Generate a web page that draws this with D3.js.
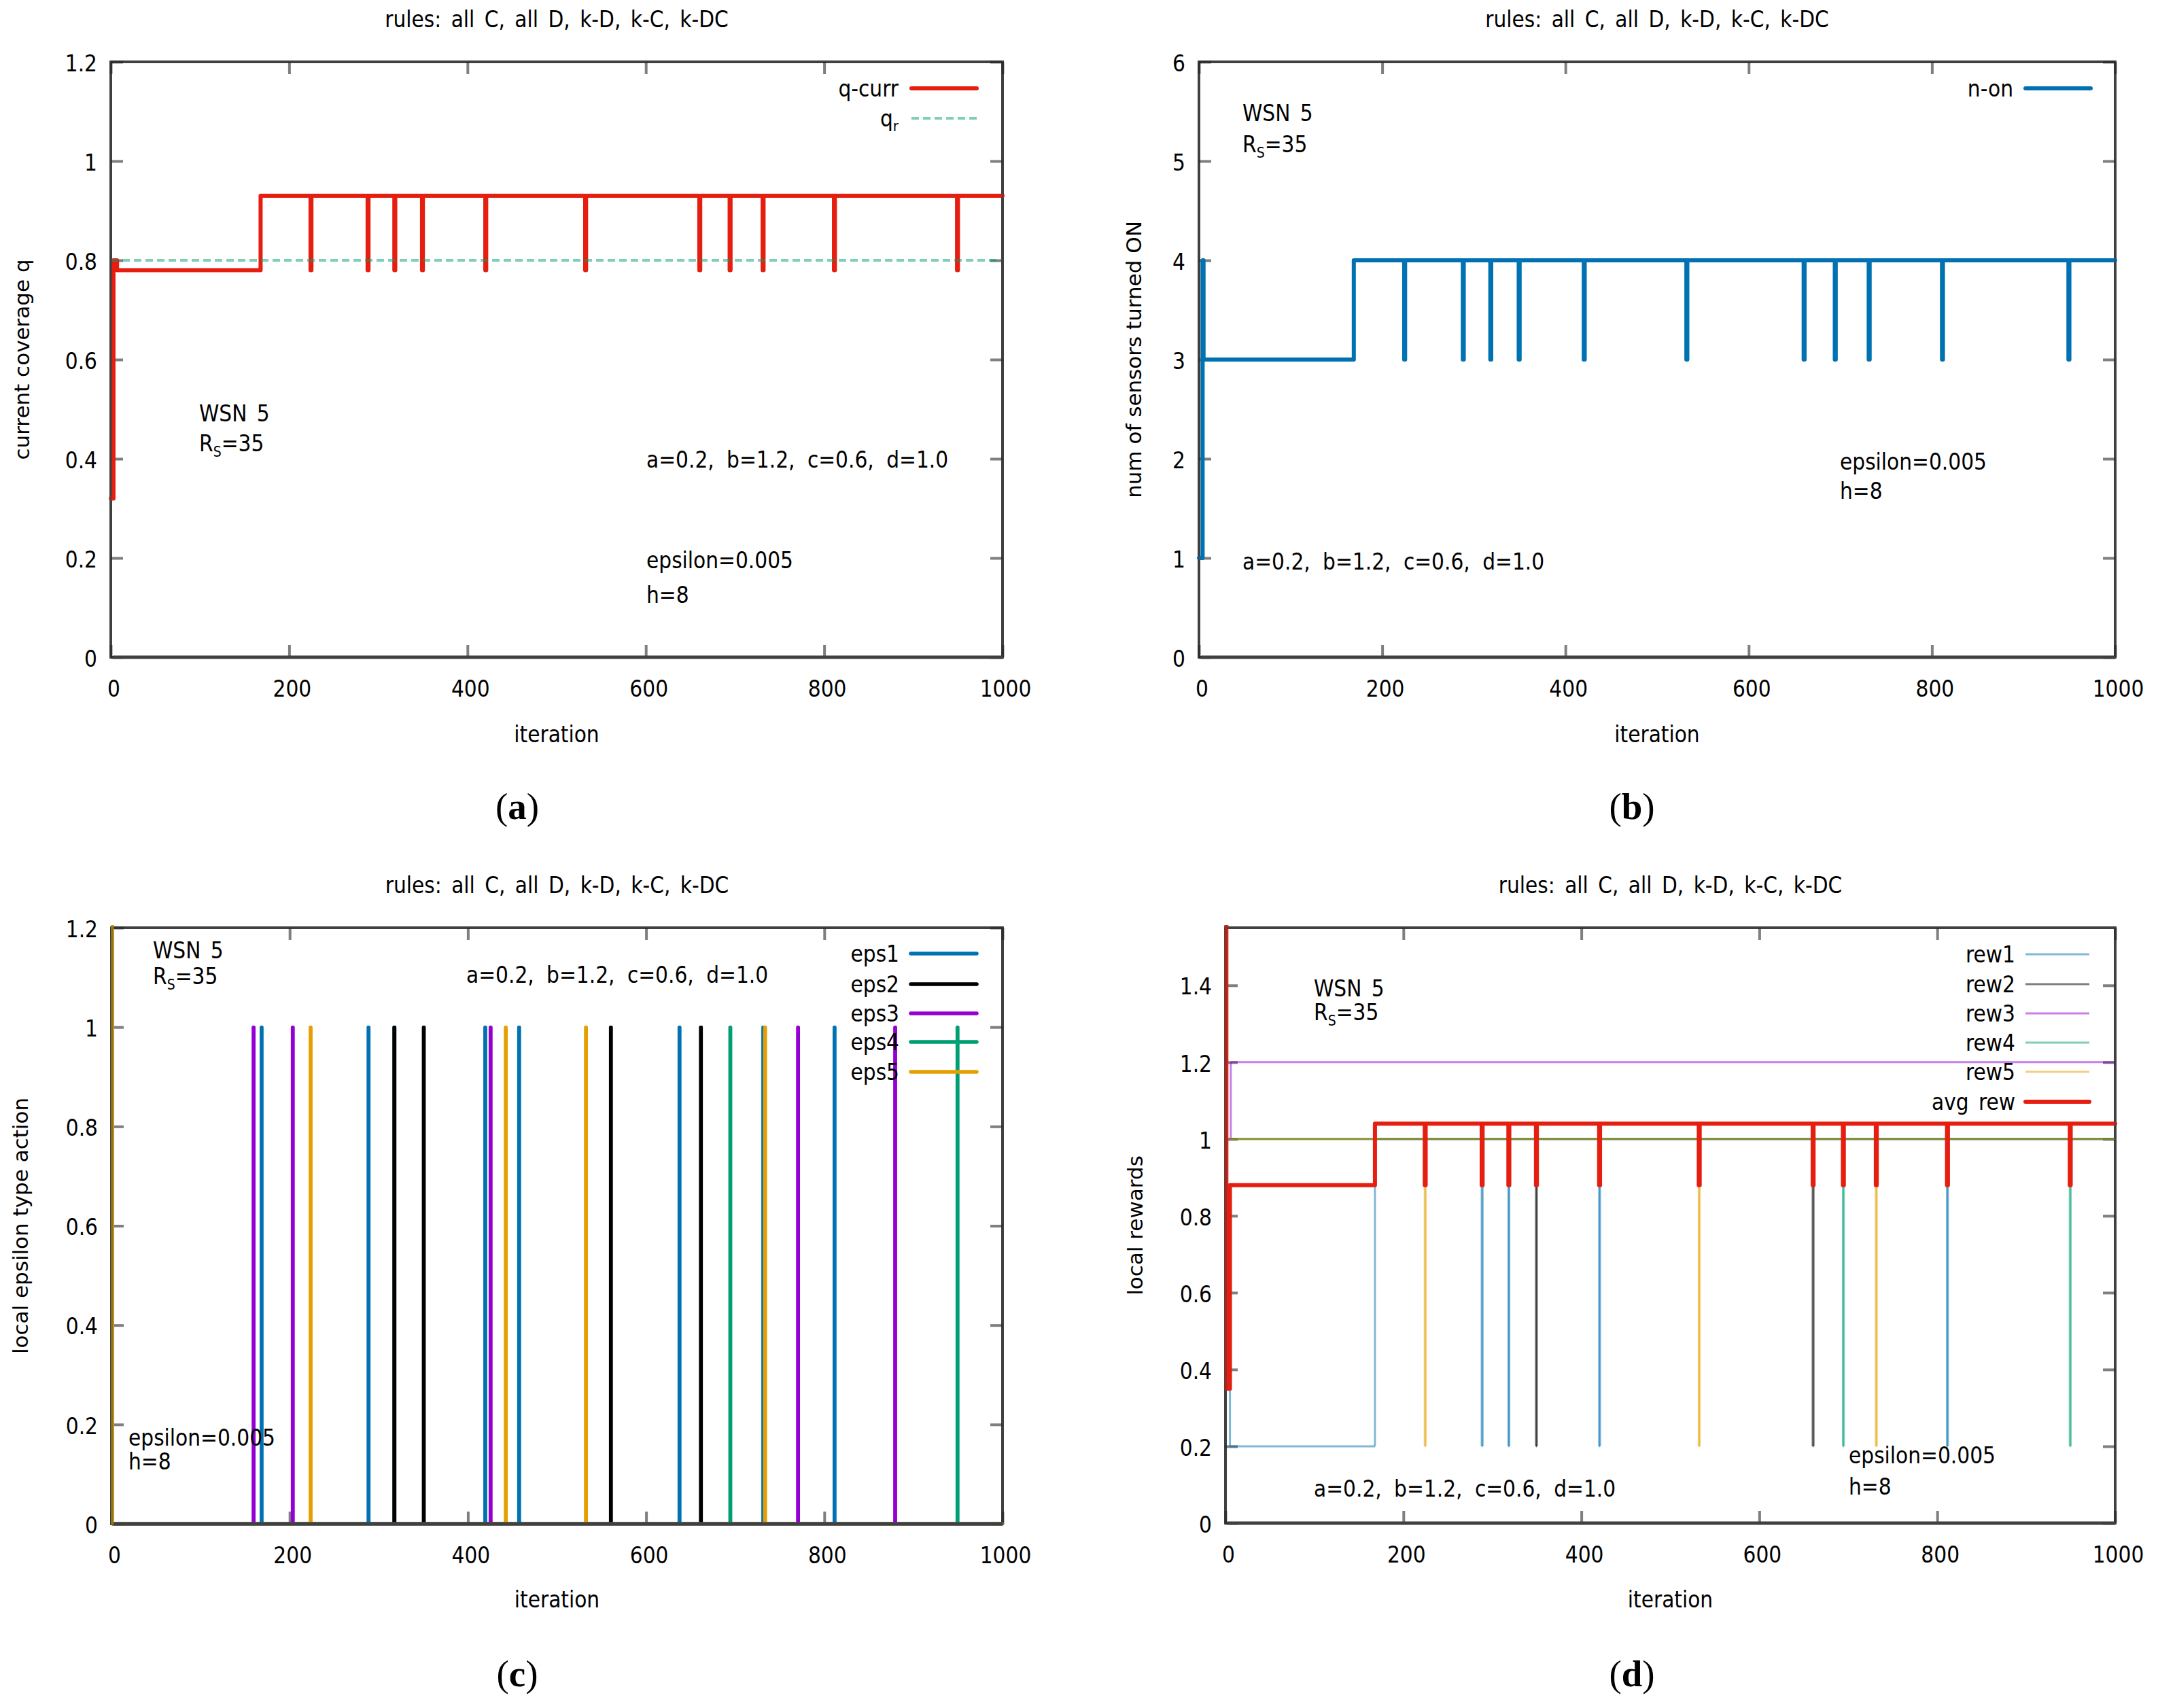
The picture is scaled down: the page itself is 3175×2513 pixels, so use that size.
<!DOCTYPE html>
<html>
<head>
<meta charset="utf-8">
<script src="https://cdn.jsdelivr.net/npm/d3@7"></script>
<style>
  body { margin: 0; background: #fff; }
  text { font-family: "DejaVu Sans Condensed", "DejaVu Sans", sans-serif; font-size: 33px; fill: #000; word-spacing: 5px; }
  text.ylab { font-family: "DejaVu Sans", sans-serif; font-size: 31px; word-spacing: 0; }
  text.cap { font-family: "Liberation Serif", "DejaVu Serif", serif; font-size: 55px; word-spacing: 0; }
  text.params { word-spacing: 9px; }
</style>
</head>
<body>
<svg id="fig" width="3175" height="2513"></svg>
<script>
// ---- data ----
const iterTicks = [0, 200, 400, 600, 800, 1000];
const titleText = 'rules: all C, all D, k-D, k-C, k-DC';
const paramText = 'a=0.2, b=1.2, c=0.6, d=1.0';

// iterations where coverage / sensors / avg reward dip for one step
const dropIters = [224, 288, 318, 349, 420, 532, 660, 694, 731, 811, 949];

// (a) current coverage
const qTicks = [0, 0.2, 0.4, 0.6, 0.8, 1, 1.2];
const qCurrStart = [[0, 0.32], [3, 0.8], [7, 0.78], [168, 0.93]];
const qCurrHigh = 0.93, qCurrLow = 0.78;
const qRequired = 0.8;

// (b) sensors turned on
const nTicks = [0, 1, 2, 3, 4, 5, 6];
const nOnStart = [[0, 1], [4, 4], [5, 3], [169, 4]];
const nOnHigh = 4, nOnLow = 3;

// (c) epsilon-type actions (value 1 at these iterations, 0 otherwise)
const epsTicks = [0, 0.2, 0.4, 0.6, 0.8, 1, 1.2];
const epsStart = [[0, 1.3], [1, 0]];
const eps1Iters = [168, 288, 317, 419, 457, 637, 731, 811];
const eps2Iters = [317, 350, 560, 661];
const eps3Iters = [159, 203, 425, 770, 879];
const eps4Iters = [694, 949];
const eps5Iters = [223, 442, 532, 733];

// (d) local rewards
const rewTicks = [0, 0.2, 0.4, 0.6, 0.8, 1, 1.2, 1.4];
const rew1Start = [[0, 0.35], [5, 0.2], [168, 1]];
const rew1Dips = [288, 318, 420, 811];
const rew2Dips = [349, 660];
const rew3Start = [[0, 1], [6, 1.2]];
const rew4Dips = [694, 949];
const rew5Dips = [224, 532, 731];
const rewHigh = 1, rewLow = 0.2, rew3Level = 1.2;
const avgStart = [[0, 1.6], [1, 0.35], [5, 0.88], [168, 1.04]];
const avgHigh = 1.04, avgLow = 0.88;

const colors = { red: '#e51e10', blue: '#0072b2', black: '#000000', purple: '#9400d3', green: '#009e73', orange: '#e69f00' };

// change points -> list, one-step excursions to "peak" at each iteration
function spikeSeries(start, base, peak, iters, end) {
  const pts = start.map(p => p.slice());
  iters.forEach(s => { pts.push([s, peak]); pts.push([s + 1, base]); });
  pts.push([end, base]);
  return pts;
}

const svg = d3.select('#fig');
svg.append('rect').attr('width', 3175).attr('height', 2513).attr('fill', '#fff');

function makePanel(c) {
  const x = d3.scaleLinear().domain([0, 1000]).range([c.L, c.R]);
  const y = d3.scaleLinear().domain(c.yDomain).range([c.B, c.T]);
  const g = svg.append('g');
  const clipId = 'clip-' + c.id;
  svg.append('clipPath').attr('id', clipId).append('rect')
    .attr('x', c.L - 4).attr('y', c.T - 4)
    .attr('width', c.R - c.L + 8).attr('height', c.B - c.T + 8);

  g.append('rect')
    .attr('x', c.L).attr('y', c.T).attr('width', c.R - c.L).attr('height', c.B - c.T)
    .attr('fill', 'none').attr('stroke', '#404040').attr('stroke-width', 4);

  const tk = 18;
  const axes = [
    g.append('g').attr('transform', `translate(0,${c.B})`)
      .call(d3.axisBottom(x).tickValues(iterTicks).tickSize(-tk).tickPadding(35).tickFormat(d => String(d))),
    g.append('g').attr('transform', `translate(0,${c.T})`)
      .call(d3.axisTop(x).tickValues(iterTicks).tickSize(-tk).tickFormat('')),
    g.append('g').attr('transform', `translate(${c.L},0)`)
      .call(d3.axisLeft(y).tickValues(c.yTicks).tickSize(-tk).tickPadding(20).tickFormat(d => String(d))),
    g.append('g').attr('transform', `translate(${c.R},0)`)
      .call(d3.axisRight(y).tickValues(c.yTicks).tickSize(-tk).tickFormat(''))
  ];
  axes.forEach(a => {
    a.select('.domain').remove();
    a.selectAll('.tick line').attr('stroke', '#000').attr('stroke-opacity', 0.5).attr('stroke-width', 4);
  });
  axes[0].selectAll('.tick text').attr('dx', 4);
  axes[2].selectAll('.tick text').attr('dy', '0.4em');

  // title, axis labels, caption
  g.append('text').attr('x', (c.L + c.R) / 2).attr('y', c.titleY).attr('text-anchor', 'middle').text(titleText);
  g.append('text').attr('x', (c.L + c.R) / 2).attr('y', c.xlabY).attr('text-anchor', 'middle').text('iteration');
  g.append('text').attr('class', 'ylab')
    .attr('transform', `translate(${c.ylabX},${(c.T + c.B) / 2}) rotate(-90)`)
    .attr('text-anchor', 'middle').attr('dy', '0.35em').text(c.ylabel);
  const cap = g.append('text').attr('class', 'cap').attr('x', c.capX).attr('y', c.capY).attr('text-anchor', 'middle');
  cap.append('tspan').text('(');
  cap.append('tspan').attr('font-weight', 'bold').text(c.id);
  cap.append('tspan').text(')');

  const plot = g.append('g').attr('clip-path', `url(#${clipId})`);
  return { c, g, x, y, plot };
}

function drawSeries(p, pts, color, width, opacity) {
  if (opacity >= 1) {
    const line = d3.line().x(d => p.x(d[0])).y(d => p.y(d[1])).curve(d3.curveStepAfter);
    p.plot.append('path').attr('d', line(pts))
      .attr('fill', 'none').attr('stroke', color).attr('stroke-width', width)
      .attr('stroke-linejoin', 'round').attr('stroke-linecap', 'round');
  } else {
    // separate segments so overlapping transparent strokes build up like the original
    const exp = [];
    pts.forEach((d, i) => { exp.push(d); if (i < pts.length - 1) exp.push([pts[i + 1][0], d[1]]); });
    const segs = d3.pairs(exp).filter(([a, b]) => a[0] !== b[0] || a[1] !== b[1]);
    p.plot.append('g').selectAll('line').data(segs).join('line')
      .attr('x1', d => p.x(d[0][0])).attr('y1', d => p.y(d[0][1]))
      .attr('x2', d => p.x(d[1][0])).attr('y2', d => p.y(d[1][1]))
      .attr('stroke', color).attr('stroke-width', width).attr('stroke-opacity', opacity);
  }
}

function finish(p, notes, legend) {
  const c = p.c, g = p.g;
  // border again, half transparent, over the data; bottom edge stays solid
  g.append('rect')
    .attr('x', c.L).attr('y', c.T).attr('width', c.R - c.L).attr('height', c.B - c.T)
    .attr('fill', 'none').attr('stroke', '#404040').attr('stroke-width', 4).attr('stroke-opacity', 0.5);
  g.append('line')
    .attr('x1', c.L + 3).attr('x2', c.R).attr('y1', c.B).attr('y2', c.B)
    .attr('stroke', '#404040').attr('stroke-width', 5);

  notes.forEach(n => {
    const t = g.append('text').attr('x', n.x).attr('y', n.y);
    if (n.rs) {
      t.append('tspan').text('R');
      t.append('tspan').attr('font-size', '21px').attr('dy', 8).text('S');
      t.append('tspan').attr('dy', -8).text('=35');
    } else {
      t.text(n.text);
      if (n.text === paramText) t.attr('class', 'params');
    }
  });

  legend.items.forEach((it, i) => {
    const ly = legend.ys[i];
    const t = g.append('text').attr('x', legend.textX).attr('y', ly + 12).attr('text-anchor', 'end');
    if (it.sub) {
      t.append('tspan').text(it.label);
      t.append('tspan').attr('font-size', '22px').attr('dy', 7).text(it.sub);
    } else {
      t.text(it.label);
    }
    const l = g.append('line').attr('x1', legend.x1).attr('x2', legend.x2).attr('y1', ly).attr('y2', ly)
      .attr('stroke', it.color).attr('stroke-width', it.width)
      .attr('stroke-opacity', it.opacity).attr('stroke-linecap', it.opacity >= 1 ? 'round' : 'butt');
    if (it.dash) l.attr('stroke-dasharray', it.dash);
  });
}

// ---- (a) ----
const pa = makePanel({ id: 'a', L: 163, T: 91, R: 1475, B: 967, yDomain: [0, 1.2], yTicks: qTicks,
  ylabel: 'current coverage q', ylabX: 32, titleY: 40, xlabY: 1092, capX: 761, capY: 1205 });
drawSeries(pa, spikeSeries(qCurrStart, qCurrHigh, qCurrLow, dropIters, 1000), colors.red, 6, 1);
pa.plot.append('line')
  .attr('x1', pa.x(0)).attr('x2', pa.x(1000)).attr('y1', pa.y(qRequired)).attr('y2', pa.y(qRequired))
  .attr('stroke', colors.green).attr('stroke-opacity', 0.5).attr('stroke-width', 4).attr('stroke-dasharray', '11,6');
finish(pa, [
  { x: 293, y: 620, text: 'WSN 5' }, { x: 293, y: 664, rs: true },
  { x: 951, y: 688, text: paramText },
  { x: 951, y: 836, text: 'epsilon=0.005' }, { x: 951, y: 887, text: 'h=8' }
], { textX: 1322, x1: 1341, x2: 1437, ys: [130, 174], items: [
  { label: 'q-curr', color: colors.red, width: 6, opacity: 1 },
  { label: 'q', sub: 'r', color: colors.green, width: 4, opacity: 0.5, dash: '11,6' }
] });

// ---- (b) ----
const pb = makePanel({ id: 'b', L: 1764, T: 91, R: 3112, B: 967, yDomain: [0, 6], yTicks: nTicks,
  ylabel: 'num of sensors turned ON', ylabX: 1668, titleY: 40, xlabY: 1092, capX: 2401, capY: 1205 });
drawSeries(pb, spikeSeries(nOnStart, nOnHigh, nOnLow, dropIters, 1000), colors.blue, 6, 1);
finish(pb, [
  { x: 1828, y: 178, text: 'WSN 5' }, { x: 1828, y: 224, rs: true },
  { x: 2707, y: 691, text: 'epsilon=0.005' }, { x: 2707, y: 734, text: 'h=8' },
  { x: 1828, y: 838, text: paramText }
], { textX: 2962, x1: 2980, x2: 3076, ys: [130], items: [
  { label: 'n-on', color: colors.blue, width: 6, opacity: 1 }
] });

// ---- (c) ----
const pc = makePanel({ id: 'c', L: 164, T: 1365, R: 1475, B: 2242, yDomain: [0, 1.2], yTicks: epsTicks,
  ylabel: 'local epsilon type action', ylabX: 30, titleY: 1314, xlabY: 2365, capX: 761, capY: 2481 });
const epsSets = [
  { label: 'eps1', iters: eps1Iters, color: colors.blue },
  { label: 'eps2', iters: eps2Iters, color: colors.black },
  { label: 'eps3', iters: eps3Iters, color: colors.purple },
  { label: 'eps4', iters: eps4Iters, color: colors.green },
  { label: 'eps5', iters: eps5Iters, color: colors.orange }
];
epsSets.forEach(s => drawSeries(pc, spikeSeries(epsStart, 0, 1, s.iters, 1000), s.color, 4.5, 1));
finish(pc, [
  { x: 225, y: 1410, text: 'WSN 5' }, { x: 225, y: 1448, rs: true },
  { x: 686, y: 1446, text: paramText },
  { x: 189, y: 2127, text: 'epsilon=0.005' }, { x: 189, y: 2162, text: 'h=8' }
], { textX: 1323, x1: 1340, x2: 1437, ys: [1403, 1448, 1491, 1533, 1577],
  items: epsSets.map(s => ({ label: s.label, color: s.color, width: 5.5, opacity: 1 })) });

// ---- (d) ----
const pd = makePanel({ id: 'd', L: 1803, T: 1365, R: 3112, B: 2241, yDomain: [0, 1.55], yTicks: rewTicks,
  ylabel: 'local rewards', ylabX: 1670, titleY: 1314, xlabY: 2365, capX: 2401, capY: 2481 });
const rewSets = [
  { label: 'rew1', pts: spikeSeries(rew1Start, rewHigh, rewLow, rew1Dips, 1000), color: colors.blue },
  { label: 'rew2', pts: spikeSeries([[0, rewHigh]], rewHigh, rewLow, rew2Dips, 1000), color: colors.black },
  { label: 'rew3', pts: spikeSeries(rew3Start, rew3Level, rew3Level, [], 1000), color: colors.purple },
  { label: 'rew4', pts: spikeSeries([[0, rewHigh]], rewHigh, rewLow, rew4Dips, 1000), color: colors.green },
  { label: 'rew5', pts: spikeSeries([[0, rewHigh]], rewHigh, rewLow, rew5Dips, 1000), color: colors.orange }
];
rewSets.forEach(s => drawSeries(pd, s.pts, s.color, 3, 0.5));
drawSeries(pd, spikeSeries(avgStart, avgHigh, avgLow, dropIters, 1000), colors.red, 6, 1);
finish(pd, [
  { x: 1933, y: 1466, text: 'WSN 5' }, { x: 1933, y: 1501, rs: true },
  { x: 1933, y: 2202, text: paramText },
  { x: 2720, y: 2153, text: 'epsilon=0.005' }, { x: 2720, y: 2199, text: 'h=8' }
], { textX: 2965, x1: 2980, x2: 3074, ys: [1404, 1448, 1491, 1534, 1577, 1621],
  items: rewSets.map(s => ({ label: s.label, color: s.color, width: 3, opacity: 0.5 }))
    .concat([{ label: 'avg rew', color: colors.red, width: 6, opacity: 1 }]) });
</script>
</body>
</html>
